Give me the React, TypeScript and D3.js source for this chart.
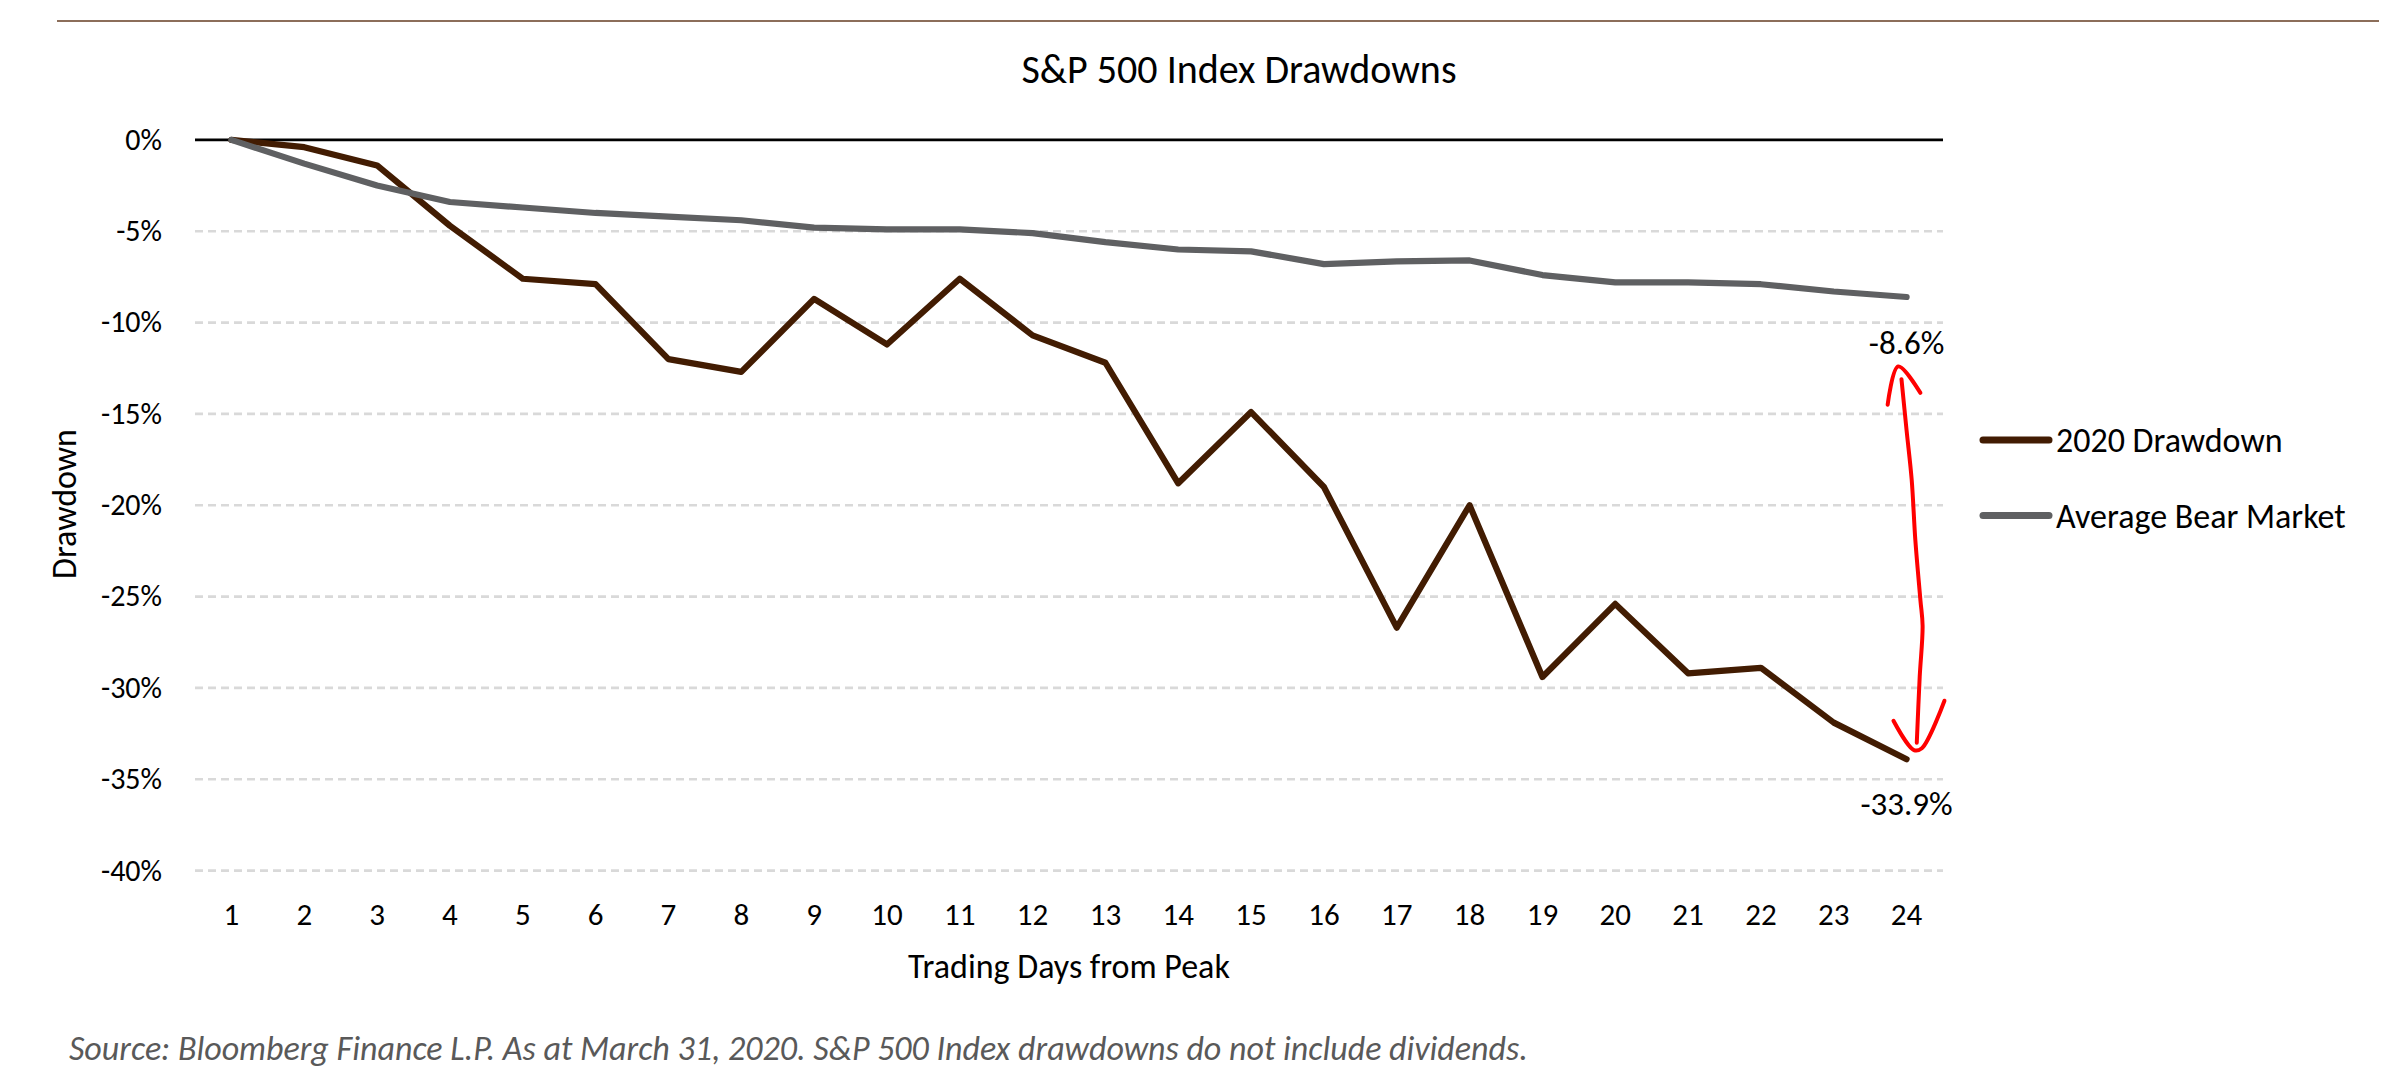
import React, { useEffect, useRef } from "react";
import * as d3 from "d3";

// Trading days from peak (x categories)
const days = [1, 2, 3, 4, 5, 6, 7, 8, 9, 10, 11, 12, 13, 14, 15, 16, 17, 18, 19, 20, 21, 22, 23, 24];

// Drawdown in %
const drawdown2020 = [
  0, -0.4, -1.4, -4.7, -7.6, -7.9, -12.0, -12.7, -8.7, -11.2, -7.6, -10.7,
  -12.2, -18.8, -14.9, -19.0, -26.7, -20.0, -29.4, -25.4, -29.2, -28.9, -31.9, -33.9,
];
const averageBear = [
  0, -1.3, -2.5, -3.4, -3.7, -4.0, -4.2, -4.4, -4.8, -4.9, -4.9, -5.1,
  -5.6, -6.0, -6.1, -6.8, -6.65, -6.6, -7.4, -7.8, -7.8, -7.9, -8.3, -8.6,
];

const yTicks = [0, -5, -10, -15, -20, -25, -30, -35, -40];

const seriesNames = ["2020 Drawdown", "Average Bear Market"];
const seriesColors = ["#421c02", "#5f6062"];

// hand drawn red arrow, in chart units [day, pct]
const arrowUpHead = [[23.74, -14.5], [23.885, -12.4], [24.19, -13.85]];
const arrowShaft = [
  [23.93, -13.1], [24.0, -15.9], [24.07, -18.6], [24.12, -21.9],
  [24.19, -25.2], [24.22, -26.6], [24.18, -29.4], [24.14, -33.0],
];
const arrowDownHead = [[23.82, -31.8], [24.1, -33.4], [24.21, -33.3], [24.52, -30.7]];

const W = 2384;
const H = 1080;
const FONT = "Carlito, Calibri, Lato, sans-serif";

export default function App() {
  const ref = useRef<SVGSVGElement>(null);

  useEffect(() => {
    const svg = d3.select(ref.current);
    svg.selectAll("*").remove();

    const x = d3.scalePoint<number>().domain(days).range([195, 1943]).padding(0.5);
    const y = d3.scaleLinear().domain([-40, 0]).range([870.6, 139.9]);
    // continuous x for the annotation
    const xc = d3.scaleLinear().domain([1, 24]).range([x(1)!, x(24)!]);

    // top rule
    svg.append("line")
      .attr("x1", 57).attr("x2", 2379).attr("y1", 21).attr("y2", 21)
      .attr("stroke", "#8c6e5a").attr("stroke-width", 2);

    // title
    svg.append("text")
      .attr("x", 1239).attr("y", 83)
      .attr("text-anchor", "middle")
      .style("font-family", FONT).style("font-size", "40px").style("font-weight", 300)
      .attr("fill", "#000")
      .text("S&P 500 Index Drawdowns");

    // grid lines
    svg.append("g")
      .selectAll("line")
      .data(yTicks.filter((t) => t !== 0))
      .enter()
      .append("line")
      .attr("x1", 195).attr("x2", 1943)
      .attr("y1", (d) => y(d)).attr("y2", (d) => y(d))
      .attr("stroke", "#d9d9d9").attr("stroke-width", 2.7)
      .attr("stroke-dasharray", "8,5");

    // zero line
    svg.append("line")
      .attr("x1", 195).attr("x2", 1943).attr("y1", y(0)).attr("y2", y(0))
      .attr("stroke", "#000").attr("stroke-width", 2.7);

    // y tick labels
    svg.append("g")
      .selectAll("text")
      .data(yTicks)
      .enter()
      .append("text")
      .attr("x", 162).attr("y", (d) => y(d)).attr("dy", "0.33em")
      .attr("text-anchor", "end")
      .style("font-family", FONT).style("font-size", "30px").style("font-weight", 300)
      .text((d) => `${d}%`);

    // x tick labels
    svg.append("g")
      .selectAll("text")
      .data(days)
      .enter()
      .append("text")
      .attr("x", (d) => x(d)!).attr("y", 925)
      .attr("text-anchor", "middle")
      .style("font-family", FONT).style("font-size", "31px").style("font-weight", 300)
      .text((d) => String(d));

    // axis titles
    svg.append("text")
      .attr("x", 1069).attr("y", 978)
      .attr("text-anchor", "middle")
      .style("font-family", FONT).style("font-size", "34px").style("font-weight", 300)
      .text("Trading Days from Peak");

    svg.append("text")
      .attr("transform", "translate(76,504) rotate(-90)")
      .attr("text-anchor", "middle")
      .style("font-family", FONT).style("font-size", "34px").style("font-weight", 300)
      .text("Drawdown");

    // series lines (average drawn on top)
    const line = d3.line<number>()
      .x((_, i) => x(days[i])!)
      .y((d) => y(d));

    [drawdown2020, averageBear].forEach((vals, i) => {
      svg.append("path")
        .datum(vals)
        .attr("d", line)
        .attr("fill", "none")
        .attr("stroke", seriesColors[i])
        .attr("stroke-width", 6.2)
        .attr("stroke-linejoin", "round")
        .attr("stroke-linecap", "round");
    });

    // end labels
    const last = days.length - 1;
    svg.append("text")
      .attr("x", x(days[last])!).attr("y", y(averageBear[last]) + 57)
      .attr("text-anchor", "middle")
      .style("font-family", FONT).style("font-size", "33px").style("font-weight", 300)
      .text(`${averageBear[last].toFixed(1)}%`);
    svg.append("text")
      .attr("x", x(days[last])!).attr("y", y(drawdown2020[last]) + 56)
      .attr("text-anchor", "middle")
      .style("font-family", FONT).style("font-size", "33px").style("font-weight", 300)
      .text(`${drawdown2020[last].toFixed(1)}%`);

    // red annotation arrow
    const arrowLine = d3.line<number[]>()
      .x((d) => xc(d[0]))
      .y((d) => y(d[1]))
      .curve(d3.curveCatmullRom);
    [arrowUpHead, arrowShaft, arrowDownHead].forEach((pts) => {
      svg.append("path")
        .attr("d", arrowLine(pts))
        .attr("fill", "none")
        .attr("stroke", "#ff0000")
        .attr("stroke-width", 4)
        .attr("stroke-linecap", "round")
        .attr("stroke-linejoin", "round");
    });

    // legend
    const legend = svg.append("g")
      .selectAll("g")
      .data(seriesNames)
      .enter()
      .append("g")
      .attr("transform", (_, i) => `translate(1983,${440 + i * 75.6})`);
    legend.append("line")
      .attr("x1", 0).attr("x2", 66)
      .attr("stroke", (_, i) => seriesColors[i])
      .attr("stroke-width", 7)
      .attr("stroke-linecap", "round");
    legend.append("text")
      .attr("x", 73).attr("dy", "0.35em")
      .style("font-family", FONT).style("font-size", "34px").style("font-weight", 300)
      .text((d) => d);

    // source note
    svg.append("text")
      .attr("x", 69).attr("y", 1060)
      .attr("fill", "#595959")
      .style("font-family", FONT).style("font-size", "34px").style("font-style", "italic").style("font-weight", 300)
      .text("Source: Bloomberg Finance L.P. As at March 31, 2020. S&P 500 Index drawdowns do not include dividends.");
  }, []);

  return (
    <svg
      ref={ref}
      width={W}
      height={H}
      style={{ position: "absolute", left: 0, top: 0, background: "#fff" }}
    />
  );
}
